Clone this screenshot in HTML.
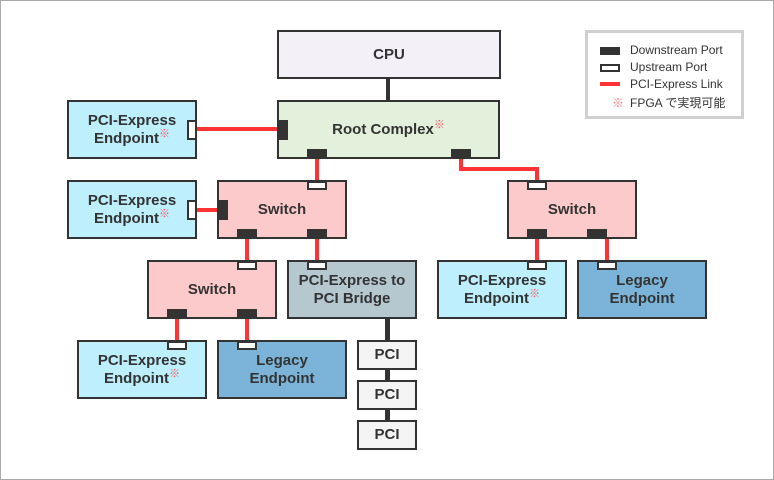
<!DOCTYPE html>
<html><head><meta charset="utf-8"><style>
body{margin:0;width:774px;height:480px;overflow:hidden;background:#fff;font-family:"Liberation Sans","Noto Sans CJK JP",sans-serif}
#f{position:absolute;left:0;top:0;width:772px;height:478px;border:1px solid #aaa}
.b{position:absolute;box-sizing:border-box;border:2px solid #333;display:flex;align-items:center;justify-content:center;text-align:center;font-weight:bold;font-size:15px;color:#333;line-height:18px}
.ep{background:#bdeffd}.sw{background:#fccacb}.lg{background:#7bb4d8}
.d{position:absolute;background:#333}
.u{position:absolute;box-sizing:border-box;background:#fff;border:2px solid #333}
.r{position:absolute;background:#f33}
.k{position:absolute;background:#333}
sup{color:#f55;font-size:11px;font-weight:normal;vertical-align:6px;line-height:0}
</style></head><body><div id="f"></div>
<!-- links -->
<div class="k" style="left:386px;top:78px;width:4px;height:24px"></div>
<div class="r" style="left:196px;top:127px;width:84px;height:4px"></div>
<div class="r" style="left:315px;top:157px;width:4px;height:25px"></div>
<div class="r" style="left:459px;top:157px;width:4px;height:14px"></div>
<div class="r" style="left:459px;top:167px;width:80px;height:4px"></div>
<div class="r" style="left:535px;top:167px;width:4px;height:15px"></div>
<div class="r" style="left:196px;top:208px;width:24px;height:4px"></div>
<div class="r" style="left:245px;top:237px;width:4px;height:25px"></div>
<div class="r" style="left:315px;top:237px;width:4px;height:25px"></div>
<div class="r" style="left:535px;top:237px;width:4px;height:25px"></div>
<div class="r" style="left:605px;top:237px;width:4px;height:25px"></div>
<div class="r" style="left:175px;top:317px;width:4px;height:25px"></div>
<div class="r" style="left:245px;top:317px;width:4px;height:25px"></div>
<div class="k" style="left:385px;top:319px;width:5px;height:120px"></div>
<!-- boxes -->
<div class="b" style="left:277px;top:30px;width:224px;height:49px;background:#f4f0f8"><span>CPU</span></div>
<div class="b" style="left:277px;top:100px;width:223px;height:59px;background:#e3f0dc"><span>Root Complex<sup>※</sup></span></div>
<div class="b ep" style="left:67px;top:100px;width:130px;height:59px"><span>PCI-Express<br>Endpoint<sup>※</sup></span></div>
<div class="b ep" style="left:67px;top:180px;width:130px;height:59px"><span>PCI-Express<br>Endpoint<sup>※</sup></span></div>
<div class="b sw" style="left:217px;top:180px;width:130px;height:59px"><span>Switch</span></div>
<div class="b sw" style="left:507px;top:180px;width:130px;height:59px"><span>Switch</span></div>
<div class="b sw" style="left:147px;top:260px;width:130px;height:59px"><span>Switch</span></div>
<div class="b" style="left:287px;top:260px;width:130px;height:59px;background:#b5c8d0"><span>PCI-Express to<br>PCI Bridge</span></div>
<div class="b ep" style="left:437px;top:260px;width:130px;height:59px"><span>PCI-Express<br>Endpoint<sup>※</sup></span></div>
<div class="b lg" style="left:577px;top:260px;width:130px;height:59px"><span>Legacy<br>Endpoint</span></div>
<div class="b ep" style="left:77px;top:340px;width:130px;height:59px"><span>PCI-Express<br>Endpoint<sup>※</sup></span></div>
<div class="b lg" style="left:217px;top:340px;width:130px;height:59px"><span>Legacy<br>Endpoint</span></div>
<div class="b" style="left:357px;top:340px;width:60px;height:30px;background:#f4f4f4"><span>PCI</span></div>
<div class="b" style="left:357px;top:380px;width:60px;height:30px;background:#f4f4f4"><span>PCI</span></div>
<div class="b" style="left:357px;top:420px;width:60px;height:30px;background:#f4f4f4"><span>PCI</span></div>
<!-- ports -->
<div class="d" style="left:278px;top:120px;width:10px;height:20px"></div>
<div class="d" style="left:307px;top:149px;width:20px;height:9px"></div>
<div class="d" style="left:451px;top:149px;width:20px;height:9px"></div>
<div class="u" style="left:187px;top:120px;width:10px;height:20px"></div>
<div class="u" style="left:187px;top:200px;width:10px;height:20px"></div>
<div class="d" style="left:218px;top:200px;width:10px;height:20px"></div>
<div class="u" style="left:307px;top:181px;width:20px;height:9px"></div>
<div class="d" style="left:237px;top:229px;width:20px;height:9px"></div>
<div class="d" style="left:307px;top:229px;width:20px;height:9px"></div>
<div class="u" style="left:527px;top:181px;width:20px;height:9px"></div>
<div class="d" style="left:527px;top:229px;width:20px;height:9px"></div>
<div class="d" style="left:587px;top:229px;width:20px;height:9px"></div>
<div class="u" style="left:237px;top:261px;width:20px;height:9px"></div>
<div class="u" style="left:307px;top:261px;width:20px;height:9px"></div>
<div class="u" style="left:527px;top:261px;width:20px;height:9px"></div>
<div class="u" style="left:597px;top:261px;width:20px;height:9px"></div>
<div class="d" style="left:167px;top:309px;width:20px;height:9px"></div>
<div class="d" style="left:237px;top:309px;width:20px;height:9px"></div>
<div class="u" style="left:167px;top:341px;width:20px;height:9px"></div>
<div class="u" style="left:237px;top:341px;width:20px;height:9px"></div>
<!-- legend -->
<div style="position:absolute;left:585px;top:30px;width:153px;height:83px;border:3px solid #d0d0d0;background:#fff;font-size:12px;color:#333">
<div style="position:absolute;left:12px;top:14px;width:20px;height:8px;background:#333"></div>
<div style="position:absolute;left:42px;top:10px">Downstream Port</div>
<div style="position:absolute;left:12px;top:31px;width:20px;height:8px;box-sizing:border-box;border:2px solid #333"></div>
<div style="position:absolute;left:42px;top:27px">Upstream Port</div>
<div style="position:absolute;left:12px;top:49px;width:20px;height:4px;background:#f33"></div>
<div style="position:absolute;left:42px;top:44px">PCI-Express Link</div>
<div style="position:absolute;left:24px;top:61px;color:#f77">※</div>
<div style="position:absolute;left:42px;top:61px">FPGA で実現可能</div>
</div>
</body></html>
